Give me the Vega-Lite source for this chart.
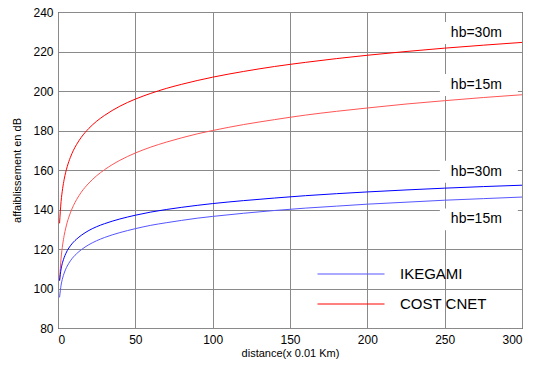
{
  "$schema": "https://vega.github.io/schema/vega-lite/v6.json",
  "width": 464,
  "height": 316,
  "autosize": {"type": "none"},
  "padding": {"left": 58, "top": 12, "right": 11, "bottom": 38},
  "background": "white",
  "config": {
    "view": {"stroke": "#000000", "strokeWidth": 1},
    "font": "Liberation Sans",
    "axis": {
      "domain": false,
      "ticks": false,
      "grid": true,
      "gridColor": "#8a8a8a",
      "gridOpacity": 1,
      "gridWidth": 1,
      "labelFont": "Liberation Sans",
      "labelFontSize": 12,
      "labelColor": "#000000",
      "labelOverlap": false,
      "titleFont": "Liberation Sans",
      "titleFontSize": 11,
      "titleFontWeight": "normal",
      "titleColor": "#000000",
      "zindex": 0
    }
  },
  "layer": [
    {
      "data": {"name": "labels", "values": [
        {"lx": 254, "ly": 229.4, "label": "hb=30m"},
        {"lx": 254, "ly": 203.0, "label": "hb=15m"},
        {"lx": 254, "ly": 159.1, "label": "hb=30m"},
        {"lx": 254, "ly": 135.0, "label": "hb=15m"}
      ]},
      "mark": {"type": "point", "shape": "M-1,-0.282H1V0.282H-1Z", "filled": true, "color": "white", "opacity": 1, "size": 6084, "xOffset": 28, "strokeWidth": 0},
      "encoding": {
        "x": {"field": "lx", "type": "quantitative", "scale": {"domain": [0, 300], "nice": false, "zero": false}, "axis": {"title": "distance(x 0.01 Km)", "values": [0, 50, 100, 150, 200, 250, 300], "labelPadding": 6, "titlePadding": 2}},
        "y": {"field": "ly", "type": "quantitative", "scale": {"domain": [80, 240], "nice": false, "zero": false}, "axis": {"title": "affaiblissement en dB", "values": [80, 100, 120, 140, 160, 180, 200, 220, 240], "labelPadding": 5, "titlePadding": 10}}
      }
    },
    {
      "data": {"values": [
        {"d": 1, "c30": 133.0, "c15": 104.0, "i30": 104.0, "i15": 95.5},
        {"d": 2, "c30": 144.1, "c15": 115.4, "i30": 109.9, "i15": 101.7},
        {"d": 3, "c30": 150.6, "c15": 122.1, "i30": 113.3, "i15": 105.3},
        {"d": 4, "c30": 155.3, "c15": 126.9, "i30": 115.7, "i15": 107.8},
        {"d": 5, "c30": 158.9, "c15": 130.6, "i30": 117.6, "i15": 109.8},
        {"d": 6, "c30": 161.8, "c15": 133.6, "i30": 119.2, "i15": 111.4},
        {"d": 8, "c30": 166.4, "c15": 138.3, "i30": 121.6, "i15": 114.0},
        {"d": 10, "c30": 170.0, "c15": 142.0, "i30": 123.5, "i15": 116.0},
        {"d": 12, "c30": 172.9, "c15": 145.0, "i30": 125.0, "i15": 117.6},
        {"d": 15, "c30": 176.5, "c15": 148.7, "i30": 126.9, "i15": 119.6},
        {"d": 20, "c30": 181.1, "c15": 153.4, "i30": 129.4, "i15": 122.2},
        {"d": 25, "c30": 184.7, "c15": 157.1, "i30": 131.3, "i15": 124.2},
        {"d": 30, "c30": 187.6, "c15": 160.1, "i30": 132.8, "i15": 125.8},
        {"d": 40, "c30": 192.3, "c15": 164.9, "i30": 135.2, "i15": 128.3},
        {"d": 50, "c30": 195.9, "c15": 168.6, "i30": 137.1, "i15": 130.3},
        {"d": 60, "c30": 198.8, "c15": 171.6, "i30": 138.7, "i15": 132.0},
        {"d": 70, "c30": 201.3, "c15": 174.1, "i30": 140.0, "i15": 133.3},
        {"d": 80, "c30": 203.4, "c15": 176.3, "i30": 141.1, "i15": 134.5},
        {"d": 90, "c30": 205.3, "c15": 178.3, "i30": 142.1, "i15": 135.6},
        {"d": 100, "c30": 207.0, "c15": 180.0, "i30": 143.0, "i15": 136.5},
        {"d": 120, "c30": 209.9, "c15": 183.0, "i30": 144.5, "i15": 138.1},
        {"d": 140, "c30": 212.4, "c15": 185.5, "i30": 145.8, "i15": 139.5},
        {"d": 160, "c30": 214.5, "c15": 187.8, "i30": 147.0, "i15": 140.7},
        {"d": 180, "c30": 216.4, "c15": 189.7, "i30": 148.0, "i15": 141.7},
        {"d": 200, "c30": 218.1, "c15": 191.4, "i30": 148.9, "i15": 142.7},
        {"d": 225, "c30": 220.0, "c15": 193.4, "i30": 149.9, "i15": 143.7},
        {"d": 250, "c30": 221.7, "c15": 195.1, "i30": 150.8, "i15": 144.7},
        {"d": 275, "c30": 223.2, "c15": 196.7, "i30": 151.6, "i15": 145.5},
        {"d": 300, "c30": 224.6, "c15": 198.1, "i30": 152.3, "i15": 146.3}
      ]},
      "transform": [{"fold": ["c30", "c15", "i30", "i15"], "as": ["series", "v"]}],
      "mark": {"type": "line", "strokeWidth": 1, "interpolate": "monotone"},
      "encoding": {
        "x": {"field": "d", "type": "quantitative", "axis": {"title": "distance(x 0.01 Km)", "values": [0, 50, 100, 150, 200, 250, 300], "labelPadding": 6, "titlePadding": 2}},
        "y": {"field": "v", "type": "quantitative", "axis": {"title": "affaiblissement en dB", "values": [80, 100, 120, 140, 160, 180, 200, 220, 240], "labelPadding": 5, "titlePadding": 10}},
        "color": {
          "field": "series",
          "type": "nominal",
          "scale": {"domain": ["i15", "i30", "c15", "c30"], "range": ["#5555ff", "#0000ff", "#ff5555", "#ff0000"]},
          "legend": {
            "values": ["i15", "c30"],
            "labelExpr": "datum.value == 'i15' ? 'IKEGAMI' : 'COST CNET'",
            "title": null,
            "orient": "none",
            "legendX": 259,
            "legendY": 247,
            "symbolType": "stroke",
            "symbolSize": 4489,
            "symbolStrokeWidth": 1,
            "clipHeight": 30,
            "rowPadding": 0,
            "labelOffset": 15,
            "labelFont": "Liberation Sans",
            "labelFontSize": 15,
            "labelColor": "#000000",
            "padding": 0
          }
        }
      }
    },
    {
      "data": {"name": "labels"},
      "mark": {"type": "text", "align": "left", "baseline": "middle", "font": "Liberation Sans", "fontSize": 14, "color": "#000000"},
      "encoding": {
        "x": {"field": "lx", "type": "quantitative", "axis": {"title": "distance(x 0.01 Km)", "values": [0, 50, 100, 150, 200, 250, 300], "labelPadding": 6, "titlePadding": 2}},
        "y": {"field": "ly", "type": "quantitative", "axis": {"title": "affaiblissement en dB", "values": [80, 100, 120, 140, 160, 180, 200, 220, 240], "labelPadding": 5, "titlePadding": 10}},
        "text": {"field": "label"}
      }
    }
  ]
}
